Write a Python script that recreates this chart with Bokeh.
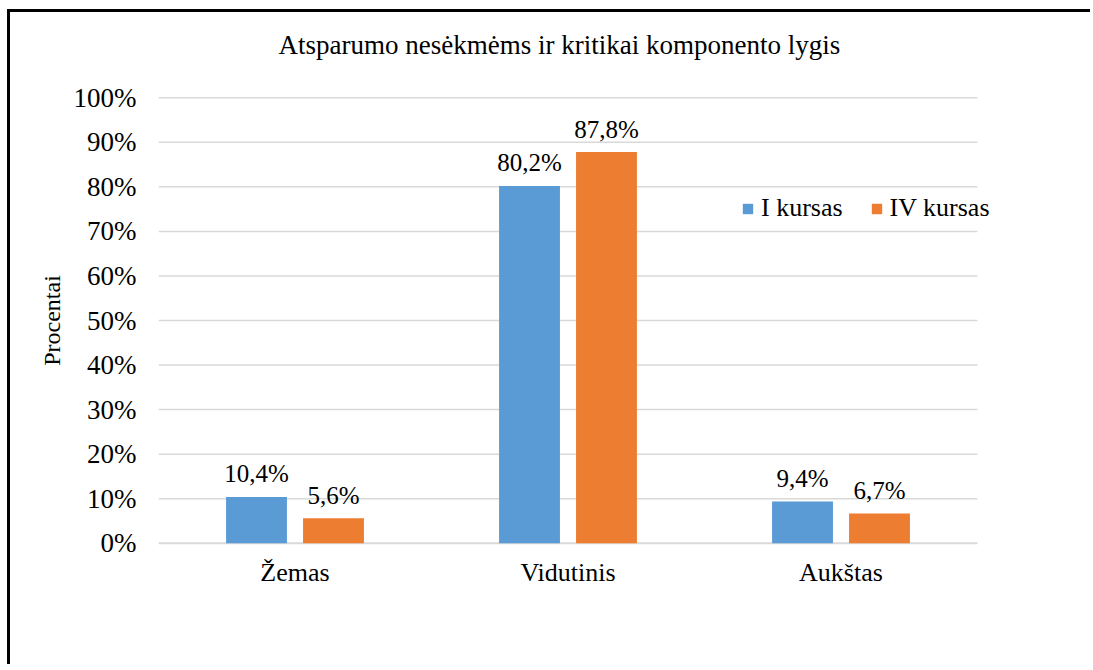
from bokeh.plotting import figure
from bokeh.models import ColumnDataSource, Range1d, FixedTicker, PrintfTickFormatter
from bokeh.core.properties import value
from bokeh.embed import file_html
from bokeh.resources import INLINE

title_text = "Atsparumo nesėkmėms ir kritikai  komponento lygis"
categories = ["Žemas", "Vidutinis", "Aukštas"]
series_names = ["I kursas", "IV kursas"]
i_kursas = [10.4, 80.2, 9.4]
iv_kursas = [5.6, 87.8, 6.7]
y_ticks = [0, 10, 20, 30, 40, 50, 60, 70, 80, 90, 100]

def fmt(v):
    return f"{v:.1f}".replace(".", ",") + "%"

off = 0.141
bw = 0.223
centers = [i + 0.5 for i in range(len(categories))]

src = ColumnDataSource(data=dict(
    xa=[c - off for c in centers],
    xb=[c + off for c in centers],
    a=i_kursas,
    b=iv_kursas,
    a_lab=[fmt(v) for v in i_kursas],
    b_lab=[fmt(v) for v in iv_kursas],
))
grid_src = ColumnDataSource(data=dict(
    x0=[0] * len(y_ticks), x1=[len(categories)] * len(y_ticks), y=y_ticks,
    w=[2 if t == 0 else 1.5 for t in y_ticks],
))

FONT = "Liberation Serif"
W, H = 1083, 655

p = figure(width=W, height=H, x_range=Range1d(0, len(categories) + 0.1209),
           y_range=Range1d(-0.5, 100.5), output_backend="svg", toolbar_location=None,
           min_border_left=148, min_border_right=W - 1000, min_border_top=83, min_border_bottom=122,
           styles={"margin-top": "9px", "margin-left": "7px",
                   "border-top": "3px solid black", "border-left": "3px solid black"})

# title: trailing empty line lifts the visible line above the plot area
p.title.text = title_text + "\n"
p.title.text_font = FONT
p.title.text_font_size = "27px"
p.title.text_font_style = "normal"
p.title.text_color = "black"
p.title.align = "left"
p.title.offset = 120
p.title.standoff = 12

BLUE = "#5B9BD5"
ORANGE = "#ED7D31"

p.segment(x0="x0", x1="x1", y0="y", y1="y", line_width="w", line_color="#d9d9d9", source=grid_src)

p.vbar(x="xa", top="a", width=bw, source=src,
       fill_color=BLUE, line_color=None, legend_label=series_names[0])
p.vbar(x="xb", top="b", width=bw, source=src,
       fill_color=ORANGE, line_color=None, legend_label=series_names[1])

for xc, col, lab in (("xa", "a", "a_lab"), ("xb", "b", "b_lab")):
    p.text(x=xc, y=col, text=lab, source=src,
           text_font=value(FONT), text_font_size="25px", text_color="black",
           text_align="center", text_baseline="alphabetic", y_offset=-23)

# axes
p.yaxis.ticker = FixedTicker(ticks=y_ticks)
p.yaxis.formatter = PrintfTickFormatter(format="%d%%")
p.yaxis.axis_line_color = None
p.yaxis.major_tick_line_color = None
p.yaxis.minor_tick_line_color = None
p.yaxis.major_label_text_font = FONT
p.yaxis.major_label_text_font_size = "27px"
p.yaxis.major_label_text_color = "black"
p.yaxis.major_label_standoff = 16
p.yaxis.axis_label = "Procentai"
p.yaxis.axis_label_text_font = FONT
p.yaxis.axis_label_text_font_size = "24px"
p.yaxis.axis_label_text_font_style = "normal"
p.yaxis.axis_label_text_color = "black"
p.yaxis.axis_label_standoff = 6

p.xaxis.ticker = FixedTicker(ticks=centers)
p.xaxis.major_label_overrides = {c: n for c, n in zip(centers, categories)}
p.xaxis.axis_line_color = None
p.xaxis.major_tick_line_color = None
p.xaxis.minor_tick_line_color = None
p.xaxis.major_label_text_font = FONT
p.xaxis.major_label_text_font_size = "26px"
p.xaxis.major_label_text_color = "black"
p.xaxis.major_label_standoff = 6

p.xgrid.grid_line_color = None
p.ygrid.grid_line_color = None
p.outline_line_color = None

p.legend.orientation = "horizontal"
p.legend.location = (583, 322)
p.legend.label_text_font = FONT
p.legend.label_text_font_size = "26px"
p.legend.label_text_color = "black"
p.legend.glyph_width = 13
p.legend.glyph_height = 13
p.legend.label_standoff = 7
p.legend.spacing = 27
p.legend.padding = 0
p.legend.margin = 0
p.legend.border_line_color = None
p.legend.background_fill_alpha = 0

open("out.html", "w").write(file_html(p, INLINE))
